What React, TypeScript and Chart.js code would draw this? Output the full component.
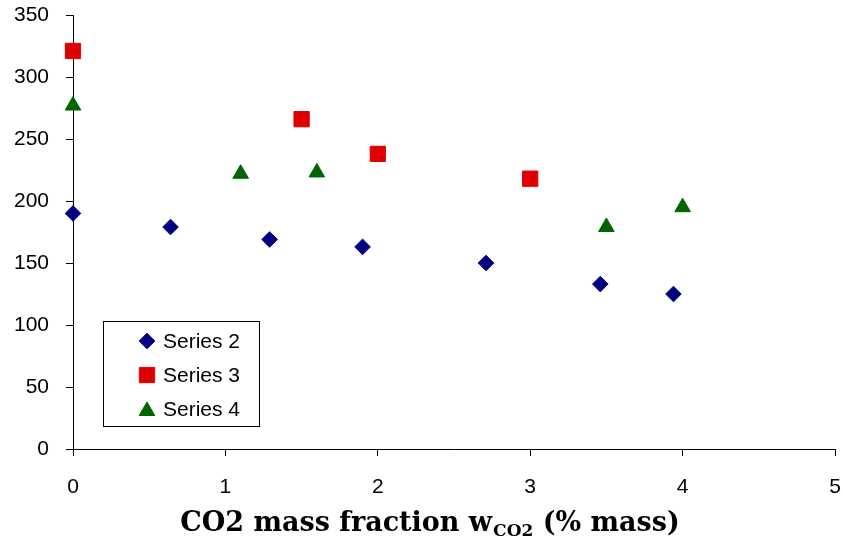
import React, { useEffect, useRef } from 'react';
import { Chart, registerables } from 'chart.js';

Chart.register(...registerables);

// ---- data ----
const series2X = [0, 0.64, 1.29, 1.9, 2.71, 3.46, 3.94];
const series2Y = [190, 179, 169, 163, 150, 133, 125];
const series3X = [0, 1.5, 2, 3];
const series3Y = [321, 266, 238, 218];
const series4X = [0, 1.1, 1.6, 3.5, 4];
const series4Y = [277, 222, 223, 179, 195];
const seriesNames = ['Series 2', 'Series 3', 'Series 4'];
const xRange = [0, 5, 1];
const yRange = [0, 350, 50];
const titleMain = 'CO2 mass fraction w';
const titleSub = 'CO2';
const titleTail = ' (% mass)';

const colors = ['#000080', '#E00000', '#006400'];
const styles = ['rectRot', 'rect', 'triangle'];
const radii = [7.8, 10.8, 9];

const toPoints = (xs: number[], ys: number[]) => xs.map((x, i) => ({ x, y: ys[i] }));

function drawMarker(ctx: CanvasRenderingContext2D, style: string, x: number, y: number, r: number) {
  ctx.beginPath();
  if (style === 'rectRot') {
    ctx.moveTo(x - r, y);
    ctx.lineTo(x, y - r);
    ctx.lineTo(x + r, y);
    ctx.lineTo(x, y + r);
  } else if (style === 'rect') {
    const s = r * Math.SQRT1_2;
    ctx.rect(x - s, y - s, 2 * s, 2 * s);
  } else {
    const w = r * Math.sqrt(3) / 2;
    ctx.moveTo(x, y - r);
    ctx.lineTo(x + w, y + r / 2);
    ctx.lineTo(x - w, y + r / 2);
  }
  ctx.closePath();
  ctx.fill();
  ctx.stroke();
}

const overlayPlugin = {
  id: 'overlay',
  afterDraw(chart: any) {
    const ctx: CanvasRenderingContext2D = chart.ctx;
    ctx.save();
    // legend box
    ctx.strokeStyle = '#000';
    ctx.lineWidth = 1;
    ctx.strokeRect(103.5, 321.5, 156, 105);
    const rows = [341, 375, 409];
    chart.data.datasets.forEach((ds: any, i: number) => {
      ctx.fillStyle = ds.backgroundColor;
      ctx.strokeStyle = ds.borderColor;
      ctx.lineWidth = 1;
      const yy = i === 2 ? rows[i] + 2 : rows[i];
      drawMarker(ctx, ds.pointStyle, 147, yy, ds.pointRadius);
      ctx.fillStyle = '#000';
      ctx.font = '21px "Liberation Sans", Arial, sans-serif';
      ctx.textBaseline = 'middle';
      ctx.textAlign = 'left';
      ctx.fillText(ds.label, 163, rows[i] + 1);
    });
    // axis title with subscript
    const mainFont = 'bold 27px "DejaVu Serif", serif';
    const subFont = 'bold 17px "DejaVu Serif", serif';
    ctx.font = mainFont;
    const wa = ctx.measureText(titleMain).width;
    const wb = ctx.measureText(titleTail).width;
    ctx.font = subFont;
    const ws = ctx.measureText(titleSub).width;
    const total = wa + ws + 1 + wb;
    let x = 430 - total / 2;
    const base = 531;
    ctx.fillStyle = '#000';
    ctx.textBaseline = 'alphabetic';
    ctx.textAlign = 'left';
    ctx.font = mainFont;
    ctx.fillText(titleMain, x, base);
    x += wa + 1;
    ctx.font = subFont;
    ctx.fillText(titleSub, x, base + 5);
    x += ws;
    ctx.font = mainFont;
    ctx.fillText(titleTail, x, base);
    ctx.restore();
  },
};

export default function App() {
  const ref = useRef<HTMLCanvasElement | null>(null);
  useEffect(() => {
    if (!ref.current) return;
    const datasets = [
      toPoints(series2X, series2Y),
      toPoints(series3X, series3Y),
      toPoints(series4X, series4Y),
    ].map((data, i) => ({
      label: seriesNames[i],
      data,
      backgroundColor: colors[i],
      borderColor: colors[i],
      borderWidth: 1,
      pointStyle: styles[i],
      pointRadius: radii[i],
      pointHoverRadius: radii[i],
      showLine: false,
      clip: false as any,
    }));
    const tickFont = { family: '"Liberation Sans", Arial, sans-serif', size: 21 };
    const chart = new Chart(ref.current, {
      type: 'scatter',
      data: { datasets },
      options: {
        responsive: false,
        animation: false,
        layout: { autoPadding: false, padding: { top: 15, right: 8, left: 0, bottom: 0 } },
        plugins: { legend: { display: false }, tooltip: { enabled: false } },
        scales: {
          x: {
            type: 'linear',
            min: xRange[0],
            max: xRange[1],
            ticks: { stepSize: xRange[2], color: '#000', font: tickFont, padding: 19, maxRotation: 0 },
            grid: { drawOnChartArea: false, drawTicks: true, tickLength: 7, color: '#000' },
            border: { color: '#000', width: 1 },
            afterFit: (s: any) => { s.height = 93; s.paddingLeft = 0; s.paddingRight = 0; },
          },
          y: {
            type: 'linear',
            min: yRange[0],
            max: yRange[1],
            ticks: { stepSize: yRange[2], color: '#000', font: tickFont, padding: 17 },
            grid: { drawOnChartArea: false, drawTicks: true, tickLength: 7, color: '#000' },
            border: { color: '#000', width: 1 },
            afterFit: (s: any) => { s.width = 73; s.paddingTop = 0; s.paddingBottom = 0; },
          },
        },
      },
      plugins: [overlayPlugin],
    });
    return () => chart.destroy();
  }, []);
  return (
    <div style={{ position: 'absolute', left: 0, top: 0, width: 843, height: 542, background: '#fff' }}>
      <canvas ref={ref} width={843} height={542} style={{ width: 843, height: 542, display: 'block' }} />
    </div>
  );
}
